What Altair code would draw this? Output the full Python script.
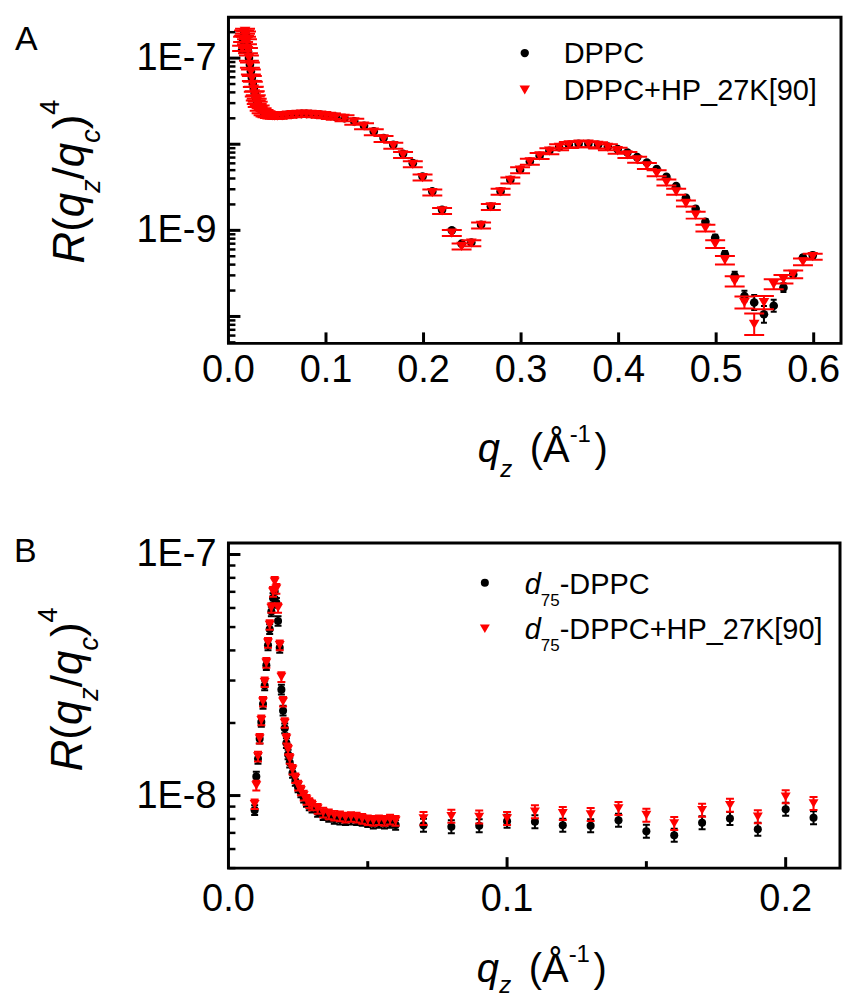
import altair as alt
import pandas as pd

FONT = "Liberation Sans"

# ---------------- Panel A data ----------------
A_q = [0.014, 0.015, 0.016, 0.017, 0.018, 0.019, 0.020, 0.021, 0.022, 0.023,
       0.024, 0.025, 0.026, 0.027, 0.028, 0.029, 0.030, 0.032, 0.034, 0.036,
       0.038, 0.040, 0.0425, 0.045, 0.0475, 0.050, 0.055, 0.060, 0.065, 0.070,
       0.075, 0.080, 0.085, 0.090, 0.095, 0.100, 0.105, 0.110,
       0.119, 0.129, 0.139, 0.149, 0.159, 0.169, 0.179, 0.189, 0.199, 0.209,
       0.219, 0.229, 0.239, 0.249, 0.259, 0.269, 0.279, 0.289, 0.299, 0.309,
       0.319, 0.329, 0.339, 0.349, 0.359, 0.369, 0.379, 0.389, 0.399, 0.409,
       0.419, 0.429, 0.439, 0.449, 0.459, 0.469, 0.479, 0.489, 0.499, 0.509,
       0.519, 0.529, 0.539, 0.549, 0.559, 0.569, 0.579, 0.589, 0.599]

A_dppc = [1.25e-7, 1.6e-7, 1.9e-7, 2.0e-7, 1.85e-7, 1.5e-7, 1.2e-7, 1.0e-7, 8.4e-8, 7.0e-8,
          5.9e-8, 5.0e-8, 4.4e-8, 3.9e-8, 3.5e-8, 3.2e-8, 2.95e-8, 2.65e-8, 2.48e-8, 2.36e-8,
          2.28e-8, 2.22e-8, 2.18e-8, 2.15e-8, 2.14e-8, 2.14e-8, 2.16e-8, 2.19e-8, 2.22e-8, 2.24e-8,
          2.25e-8, 2.25e-8, 2.24e-8, 2.22e-8, 2.2e-8, 2.17e-8, 2.13e-8, 2.08e-8,
          2.0e-8, 1.84e-8, 1.64e-8, 1.41e-8, 1.18e-8, 9.85e-9, 7.74e-9, 6.03e-9, 4.22e-9, 2.83e-9,
          1.73e-9, 1.0e-9, 7.0e-10, 7.23e-10, 1.16e-9, 1.89e-9, 2.83e-9, 3.86e-9, 5.05e-9, 6.31e-9,
          7.34e-9, 8.39e-9, 9.25e-9, 9.85e-9, 1.01e-8, 1.01e-8, 9.85e-9, 9.42e-9, 8.77e-9, 8.02e-9,
          7.08e-9, 6.14e-9, 5.14e-9, 4.18e-9, 3.26e-9, 2.39e-9, 1.78e-9, 1.26e-9, 8.2e-10, 5.26e-10,
          2.95e-10, 1.73e-10, 1.45e-10, 1.06e-10, 1.33e-10, 2.16e-10, 3.08e-10, 4.82e-10, 5.12e-10]

A_hp = [1.3e-7, 1.65e-7, 1.95e-7, 2.05e-7, 1.9e-7, 1.55e-7, 1.22e-7, 1.0e-7, 8.3e-8, 6.9e-8,
        5.8e-8, 4.95e-8, 4.35e-8, 3.85e-8, 3.45e-8, 3.15e-8, 2.9e-8, 2.62e-8, 2.45e-8, 2.33e-8,
        2.25e-8, 2.2e-8, 2.16e-8, 2.13e-8, 2.12e-8, 2.12e-8, 2.14e-8, 2.17e-8, 2.2e-8, 2.22e-8,
        2.23e-8, 2.23e-8, 2.22e-8, 2.2e-8, 2.18e-8, 2.15e-8, 2.11e-8, 2.06e-8,
        2.0e-8, 1.82e-8, 1.62e-8, 1.38e-8, 1.15e-8, 9.6e-9, 7.5e-9, 5.85e-9, 4.1e-9, 2.75e-9,
        1.68e-9, 9.3e-10, 6.5e-10, 7.1e-10, 1.14e-9, 1.87e-9, 2.8e-9, 3.8e-9, 5.0e-9, 6.25e-9,
        7.3e-9, 8.3e-9, 9.2e-9, 9.8e-9, 1.0e-8, 1.0e-8, 9.7e-9, 9.2e-9, 8.4e-9, 7.5e-9,
        6.6e-9, 5.6e-9, 4.6e-9, 3.6e-9, 2.8e-9, 2.05e-9, 1.5e-9, 1.06e-9, 6.9e-10, 4.5e-10,
        2.55e-10, 1.45e-10, 8.1e-11, 1.45e-10, 2.36e-10, 2.7e-10, 3.09e-10, 4.3e-10, 4.94e-10]

# half-widths of the error bars, in decades
A_dppc_err = [0.02] * 38 + [0.015] * 33 + [0.02, 0.02, 0.02, 0.025, 0.03, 0.035, 0.04,
                                             0.05, 0.06, 0.087, 0.097, 0.07, 0.05, 0.04, 0.03, 0.03]
A_hp_err = [0.03] * 38 + [0.035] * 33 + [0.035, 0.035, 0.035, 0.04, 0.04, 0.045, 0.05,
                                           0.06, 0.07, 0.125, 0.077, 0.058, 0.05, 0.045, 0.04, 0.035]

# ---------------- Panel B data ----------------
B_q = [0.0094, 0.0100, 0.0106, 0.0112, 0.0118, 0.0124, 0.0130, 0.0136, 0.0142, 0.0148,
       0.0154, 0.0160, 0.0166, 0.0172, 0.0178, 0.0184, 0.0190, 0.0196, 0.0202, 0.0208,
       0.0214, 0.022, 0.023, 0.024, 0.025, 0.026, 0.027, 0.028, 0.029, 0.030,
       0.032, 0.034, 0.036, 0.038, 0.040, 0.042, 0.044, 0.046, 0.048, 0.050,
       0.052, 0.054, 0.056, 0.058, 0.060,
       0.07, 0.08, 0.09, 0.10, 0.11, 0.12, 0.13, 0.14, 0.15, 0.16,
       0.17, 0.18, 0.19, 0.20, 0.21]

B_d75 = [8.7e-9, 1.2e-8, 1.42e-8, 1.72e-8, 2.02e-8, 2.4e-8, 2.86e-8, 3.47e-8, 4.2e-8, 4.9e-8,
         5.8e-8, 6.6e-8, 7.0e-8, 6.3e-8, 5.3e-8, 4.1e-8, 2.75e-8, 2.25e-8, 1.9e-8, 1.65e-8,
         1.48e-8, 1.37e-8, 1.24e-8, 1.15e-8, 1.08e-8, 1.03e-8, 9.8e-9, 9.4e-9, 9.1e-9, 8.9e-9,
         8.55e-9, 8.3e-9, 8.15e-9, 8.0e-9, 7.95e-9, 7.9e-9, 7.95e-9, 7.9e-9, 7.85e-9, 7.75e-9,
         7.65e-9, 7.7e-9, 7.65e-9, 7.7e-9, 7.55e-9,
         7.53e-9, 7.42e-9, 7.49e-9, 7.83e-9, 7.78e-9, 7.53e-9, 7.49e-9, 7.9e-9, 7.11e-9, 6.85e-9,
         7.71e-9, 8.03e-9, 7.25e-9, 8.78e-9, 8.09e-9]

B_d75_hp = [9.2e-9, 1.1e-8, 1.45e-8, 1.72e-8, 2.05e-8, 2.45e-8, 2.95e-8, 3.55e-8, 4.3e-8, 5.1e-8,
            6.0e-8, 7.0e-8, 7.7e-8, 7.2e-8, 6.0e-8, 4.2e-8, 3.1e-8, 2.45e-8, 2.0e-8, 1.72e-8,
            1.55e-8, 1.42e-8, 1.28e-8, 1.18e-8, 1.1e-8, 1.05e-8, 1.0e-8, 9.6e-9, 9.3e-9, 9.1e-9,
            8.8e-9, 8.5e-9, 8.35e-9, 8.25e-9, 8.2e-9, 8.1e-9, 8.15e-9, 8.1e-9, 8.0e-9, 7.9e-9,
            7.85e-9, 7.9e-9, 7.85e-9, 7.95e-9, 7.85e-9,
            8.03e-9, 8.2e-9, 8.15e-9, 8.03e-9, 8.56e-9, 8.43e-9, 8.34e-9, 8.83e-9, 8.29e-9, 7.66e-9,
            8.69e-9, 9.12e-9, 8.16e-9, 9.88e-9, 9.27e-9]

B_d75_err = [0.02] * 45 + [0.027] * 15
B_d75_hp_err = [0.02] * 45 + [0.027] * 15

# axis ticks and labels
A_xlabel_vals = [0.0, 0.1, 0.2, 0.3, 0.4, 0.5, 0.6]
A_xlabel_txt = ["0.0", "0.1", "0.2", "0.3", "0.4", "0.5", "0.6"]
A_ylabel_vals = [1e-7, 1e-9]
A_ylabel_txt = ["1E-7", "1E-9"]
A_xmajor = [0.1, 0.2, 0.3, 0.4, 0.5, 0.6]
A_ymajor = [1e-10, 1e-9, 1e-8, 1e-7]
A_xdom = [0.0, 0.628]
A_ydom = [4.87e-11, 2.99e-7]

B_xlabel_vals = [0.0, 0.1, 0.2]
B_xlabel_txt = ["0.0", "0.1", "0.2"]
B_ylabel_vals = [1e-7, 1e-8]
B_ylabel_txt = ["1E-7", "1E-8"]
B_xmajor = [0.1, 0.2]
B_xminor = [0.05, 0.15]
B_ymajor = [1e-8, 1e-7]
B_xdom = [0.0, 0.2195]
B_ydom = [5.0e-9, 1.117e-7]


def minor_log(dom):
    out = []
    for e in range(-12, -5):
        for m in range(2, 10):
            v = m * 10.0 ** e
            if dom[0] <= v <= dom[1]:
                out.append(v)
    return out


def series(q, r, e):
    return pd.DataFrame({
        "q": q, "R": r,
        "lo": [v / 10 ** d for v, d in zip(r, e)],
        "hi": [v * 10 ** d for v, d in zip(r, e)],
    })


def one():
    return pd.DataFrame({"a": [0]})


def txt(s, x, y, size, italic=False, angle=0, align="left"):
    return alt.Chart(pd.DataFrame({"t": [s]})).mark_text(
        align=align, baseline="alphabetic", fontSize=size, font=FONT,
        fontStyle="italic" if italic else "normal", angle=angle, color="black"
    ).encode(x=alt.value(x), y=alt.value(y), text="t:N")


EM = {"R": 0.722, "(": 0.333, "q": 0.556, "z": 0.5, "/": 0.278, "c": 0.5, ")": 0.333, "4": 0.556}


def ytitle(y0, xb, xsub, xsup, big=44, small=27):
    parts = [("R", big, True, xb), ("(", big, False, xb), ("q", big, True, xb),
             ("z", small, True, xsub), ("/", big, False, xb), ("q", big, True, xb),
             ("c", small, True, xsub), (")", big, False, xb), ("4", small, False, xsup)]
    layers = []
    y = y0
    for s, size, it, xx in parts:
        layers.append(txt(s, xx, y, size, italic=it, angle=270))
        y -= EM[s] * size
    return layers


def xtitle(x0, yb, ysub, ysup):
    return [txt("q", x0, yb, 40, italic=True),
            txt("z", x0 + 22.5, ysub, 24, italic=True),
            txt("(", x0 + 52, yb, 40),
            txt("Å", x0 + 65.3, yb, 40),
            txt("-1", x0 + 92, ysup, 24),
            txt(")", x0 + 117, yb, 40)]


def panel(W, H, q, r1, e1, r2, e2, xdom, ydom, xlv, xlt, ylv, ylt, xmajor, xminor,
          ymajor, cap1, cap2, s1, s2, xlab_y, extra):
    xs = alt.Scale(domain=xdom, nice=False, zero=False)
    ys = alt.Scale(type="log", domain=ydom, nice=False)
    X = alt.X("q:Q", scale=xs, axis=None)
    Y = lambda f: alt.Y(f + ":Q", scale=ys, axis=None)
    d1 = series(q, r1, e1)
    d2 = series(q, r2, e2)
    layers = []
    # black series
    layers.append(alt.Chart(d1).mark_rule(color="black", strokeWidth=2, clip=True).encode(
        x=X, y=Y("lo"), y2="hi:Q"))
    for f in ("lo", "hi"):
        layers.append(alt.Chart(d1).mark_tick(orient="horizontal", color="black", size=cap1,
                                              thickness=2, opacity=1, clip=True).encode(x=X, y=Y(f)))
    layers.append(alt.Chart(d1).mark_point(shape="circle", filled=True, size=s1, color="black",
                                           opacity=1, strokeWidth=0).encode(x=X, y=Y("R")))
    # red series
    layers.append(alt.Chart(d2).mark_rule(color="#ff0000", strokeWidth=2, clip=True).encode(
        x=X, y=Y("lo"), y2="hi:Q"))
    for f in ("lo", "hi"):
        layers.append(alt.Chart(d2).mark_tick(orient="horizontal", color="#ff0000", size=cap2,
                                              thickness=2, opacity=1, clip=True).encode(x=X, y=Y(f)))
    layers.append(alt.Chart(d2).mark_point(shape="triangle-down", filled=True, size=s2,
                                           color="#ff0000", opacity=1, strokeWidth=0).encode(x=X, y=Y("R")))
    # inward frame ticks
    layers.append(alt.Chart(pd.DataFrame({"q": xmajor})).mark_rule(color="black", strokeWidth=3).encode(
        x=X, y=alt.value(H), y2=alt.value(H - 11)))
    if xminor:
        layers.append(alt.Chart(pd.DataFrame({"q": xminor})).mark_rule(color="black", strokeWidth=3).encode(
            x=X, y=alt.value(H), y2=alt.value(H - 7)))
    layers.append(alt.Chart(pd.DataFrame({"R": ymajor})).mark_rule(color="black", strokeWidth=3).encode(
        y=Y("R"), x=alt.value(0), x2=alt.value(12)))
    layers.append(alt.Chart(pd.DataFrame({"R": minor_log(ydom)})).mark_rule(color="black", strokeWidth=2.5).encode(
        y=Y("R"), x=alt.value(0), x2=alt.value(7)))
    # tick labels
    layers.append(alt.Chart(pd.DataFrame({"q": xlv, "t": xlt})).mark_text(
        align="center", baseline="alphabetic", fontSize=38, font=FONT, color="black").encode(
        x=X, y=alt.value(xlab_y), text="t:N"))
    layers.append(alt.Chart(pd.DataFrame({"R": ylv, "t": ylt})).mark_text(
        align="right", baseline="alphabetic", fontSize=38, font=FONT, color="black", dy=12).encode(
        y=Y("R"), x=alt.value(-12), text="t:N"))
    layers += extra
    return alt.layer(*layers).properties(width=W, height=H)


def anchor(x, y):
    return alt.Chart(one()).mark_rule(strokeOpacity=0, strokeWidth=1, color="white").encode(
        x=alt.value(x), x2=alt.value(x + 1), y=alt.value(y), y2=alt.value(y + 1))


def sym(shape, color, size, x, y):
    return alt.Chart(one()).mark_point(shape=shape, filled=True, size=size, color=color,
                                       opacity=1, strokeWidth=0).encode(x=alt.value(x), y=alt.value(y))


extraA = [anchor(-225, -14), anchor(-225, 478),
          txt("A", -214, 33, 34),
          sym("circle", "black", 70, 297, 36), sym("triangle-down", "#ff0000", 110, 297, 73),
          txt("DPPC", 336, 46, 29), txt("DPPC+HP_27K[90]", 336, 83, 29)]
extraA += ytitle(247, -145, -129, -170)
extraA += xtitle(250, 446, 461, 426)

extraB = [anchor(-227, -44),
          txt("B", -215, 19, 34),
          sym("circle", "black", 65, 257, 40), sym("triangle-down", "#ff0000", 100, 257, 86),
          txt("d", 297, 51, 29, italic=True), txt("75", 313, 63, 17), txt("-DPPC", 332, 51, 29),
          txt("d", 297, 96, 29, italic=True), txt("75", 313, 108, 17),
          txt("-DPPC+HP_27K[90]", 332, 96, 29)]
extraB += ytitle(229, -147, -131, -172)
extraB += xtitle(249, 440, 451, 420)

A = panel(614, 327, A_q, A_dppc, A_dppc_err, A_hp, A_hp_err, A_xdom, A_ydom,
          A_xlabel_vals, A_xlabel_txt, A_ylabel_vals, A_ylabel_txt,
          A_xmajor, [], A_ymajor, 6, 20, 75, 115, 366, extraA)
B = panel(613, 326, B_q, B_d75, B_d75_err, B_d75_hp, B_d75_hp_err, B_xdom, B_ydom,
          B_xlabel_vals, B_xlabel_txt, B_ylabel_vals, B_ylabel_txt,
          B_xmajor, B_xminor, B_ymajor, 7, 8, 65, 100, 369, extraB)

chart = alt.vconcat(A, B, spacing=0).properties(padding=0, background="white").configure_view(
    stroke="black", strokeWidth=3)

chart.save("out.html", embed_options={"renderer": "svg", "actions": False})
